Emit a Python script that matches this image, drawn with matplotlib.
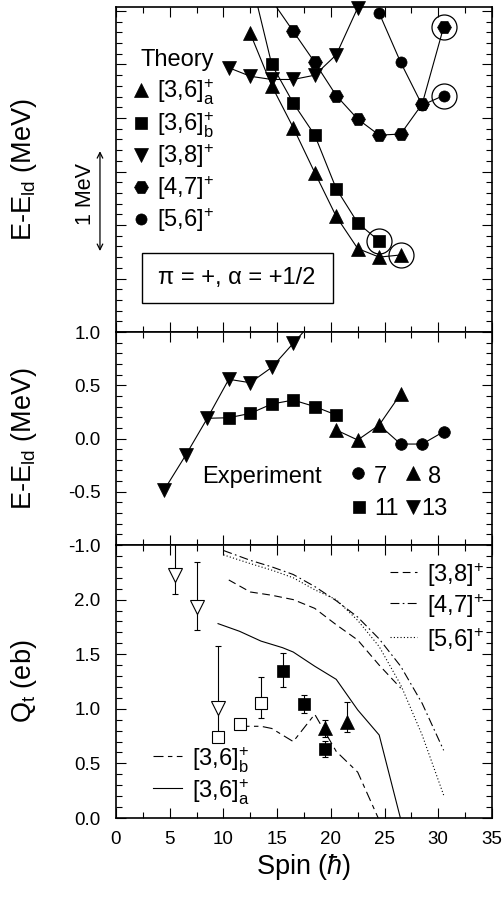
import numpy as np
import matplotlib
matplotlib.use("Agg")
import matplotlib.pyplot as plt
import matplotlib.transforms as mtransforms
from matplotlib.ticker import MultipleLocator, FixedLocator, NullFormatter
from matplotlib.patches import Rectangle

plt.rcParams['font.family'] = ['Liberation Sans', 'DejaVu Sans']
plt.rcParams['mathtext.fontset'] = 'custom'
plt.rcParams['mathtext.rm'] = 'Liberation Sans'
plt.rcParams['mathtext.it'] = 'Liberation Sans:italic'
plt.rcParams['mathtext.bf'] = 'Liberation Sans:bold'

# --- theory, top panel (E - E_ld, MeV, arbitrary offset) ---
th_36a_spin = [12.5, 14.5, 16.5, 18.5, 20.5, 22.5, 24.5, 26.5]
th_36a_e = [2.79, 2.30, 1.91, 1.49, 1.08, 0.78, 0.70, 0.72]
th_36b_spin = [12.5, 14.5, 16.5, 18.5, 20.5, 22.5, 24.5]
th_36b_e = [3.33, 2.50, 2.14, 1.84, 1.34, 1.02, 0.85]
th_38_spin = [10.5, 12.5, 14.5, 16.5, 18.5, 20.5, 22.5]
th_38_e = [2.47, 2.39, 2.36, 2.36, 2.40, 2.59, 3.03]
th_47_spin = [14.5, 16.5, 18.5, 20.5, 22.5, 24.5, 26.5, 28.5, 30.5]
th_47_e = [3.10, 2.81, 2.52, 2.21, 1.99, 1.84, 1.85, 2.13, 2.85]
th_56_spin = [24.5, 26.5, 28.5, 30.5]
th_56_e = [2.98, 2.52, 2.12, 2.21]
circled_spin = [26.5, 24.5, 30.5, 30.5]
circled_e = [0.72, 0.85, 2.85, 2.21]
scale_bar = [0.757, 1.69]   # "1 MeV" arrow ends

# --- experiment, middle panel ---
exp13_spin = [4.5, 6.5, 8.5, 10.5, 12.5, 14.5, 16.5, 18.5]
exp13_e = [-0.48, -0.155, 0.19, 0.556, 0.524, 0.668, 0.894, 1.12]
exp11_spin = [8.5, 10.5, 12.5, 14.5, 16.5, 18.5, 20.5]
exp11_e = [0.19, 0.195, 0.236, 0.324, 0.361, 0.30, 0.221]
exp8_spin = [20.5, 22.5, 24.5, 26.5]
exp8_e = [0.08, -0.014, 0.127, 0.418]
exp7_spin = [24.5, 26.5, 28.5, 30.5]
exp7_e = [0.127, -0.052, -0.052, 0.064]

# --- transition quadrupole moments, bottom panel ---
qt13_spin = [5.5, 7.5, 9.5]
qt13 = [2.225, 1.935, 1.005]
qt13_lo = [0.175, 0.215, 0.25]
qt13_hi = [0.40, 0.405, 0.57]
qt11_open_spin = [9.5, 11.5, 13.5]
qt11_open = [0.739, 0.861, 1.056]
qt11_open_lo = [0.0, 0.0, 0.138]
qt11_open_hi = [0.0, 0.0, 0.238]
qt11_spin = [15.5, 17.5, 19.5]
qt11 = [1.346, 1.041, 0.632]
qt11_lo = [0.143, 0.082, 0.076]
qt11_hi = [0.168, 0.082, 0.07]
qt8_spin = [19.5, 21.5]
qt8 = [0.827, 0.882]
qt8_lo = [0.082, 0.092]
qt8_hi = [0.075, 0.178]

calc_36a_spin = [9.5, 11.5, 13.5, 15.5, 16.5, 18.5, 20.5, 22.5, 24.5, 26.5]
calc_36a = [1.78, 1.71, 1.62, 1.56, 1.52, 1.39, 1.27, 0.99, 0.76, -0.01]
calc_36b_spin = [11.5, 13.5, 14.5, 16.5, 18.5, 20.5, 22.5, 24.5]
calc_36b = [0.84, 0.84, 0.82, 0.70, 0.95, 0.61, 0.42, -0.02]
calc_38_spin = [10.5, 12.5, 14.5, 16.5, 18.5, 20.5, 22.5, 24.5, 26.5]
calc_38 = [2.18, 2.07, 2.04, 2.00, 1.92, 1.77, 1.63, 1.40, 1.19]
calc_47_spin = [10.0, 12.5, 14.5, 16.5, 18.5, 20.5, 22.5, 24.5, 26.5, 28.5, 30.5]
calc_47 = [2.45, 2.36, 2.30, 2.23, 2.12, 1.99, 1.84, 1.64, 1.39, 1.05, 0.62]
calc_56_spin = [10.0, 12.5, 14.5, 16.5, 18.5, 20.5, 22.5, 24.5, 26.5, 28.5, 30.5]
calc_56 = [2.41, 2.33, 2.27, 2.20, 2.09, 2.00, 1.81, 1.57, 1.22, 0.76, 0.21]

FS_TEXT = 17
FS_TICK = 13.5
FS_LABEL = 19.5
TOP_MAX = 3.037

fig = plt.figure(figsize=(5.03, 9.01), dpi=100)
ax_top = fig.add_axes([0.2306, 0.6315, 0.7475, 0.3607])
ax_mid = fig.add_axes([0.2306, 0.3951, 0.7475, 0.2364])
ax_bot = fig.add_axes([0.2306, 0.0921, 0.7475, 0.3030])


def style_axis(ax):
    ax.set_xlim(0, 35)
    ax.xaxis.set_major_locator(MultipleLocator(5))
    ax.xaxis.set_minor_locator(MultipleLocator(2.5))
    ax.yaxis.set_minor_locator(MultipleLocator(0.1))
    ax.tick_params(which='both', direction='in', top=True, right=True,
                   width=0.8, labelsize=FS_TICK)
    ax.tick_params(which='major', length=7)
    ax.tick_params(which='minor', length=4)
    ax.tick_params(axis='y', pad=11)
    ax.tick_params(axis='x', pad=9)
    for s in ax.spines.values():
        s.set_linewidth(1.2)


for ax in (ax_top, ax_mid, ax_bot):
    style_axis(ax)

# ---------------- top panel ----------------
ax = ax_top
ax.set_ylim(0, TOP_MAX)
ax.yaxis.set_major_locator(MultipleLocator(0.5))
ax.yaxis.set_major_formatter(NullFormatter())
ax.xaxis.set_major_formatter(NullFormatter())

MS_TRI, MS_SQ, MS_HEX, MS_CIR = 9.6, 8.4, 10.0, 8.0
bands = [
    (th_36a_spin, th_36a_e, '^', MS_TRI),
    (th_36b_spin, th_36b_e, 's', MS_SQ),
    (th_56_spin, th_56_e, 'o', MS_CIR),
    (th_47_spin, th_47_e, 'H', MS_HEX),
    (th_38_spin, th_38_e, 'v', MS_TRI),
]
for spin, e, mk, ms in bands:
    spin = np.array(spin)
    e = np.array(e)
    ax.plot(spin, e, '-', color='k', lw=0.8)
    inside = e <= TOP_MAX + 0.02
    ax.plot(spin[inside], e[inside], ls='none', marker=mk, ms=ms, color='k',
            mew=0.5, clip_on=False, zorder=3)
ax.plot(circled_spin, circled_e, ls='none', marker='o', ms=18, mfc='none',
        mec='k', mew=0.9, zorder=4)

# legend "Theory"
ax.text(0.064, 0.837, 'Theory', transform=ax.transAxes, fontsize=FS_TEXT,
        ha='left', va='center')
theory_labels = [r'[3,6]$^{+}_{\mathrm{a}}$', r'[3,6]$^{+}_{\mathrm{b}}$',
                 r'[3,8]$^{+}$', r'[4,7]$^{+}$', r'[5,6]$^{+}$']
theory_marks = [('^', MS_TRI), ('s', MS_SQ), ('v', MS_TRI), ('H', MS_HEX),
                ('o', MS_CIR)]
row_px = [90, 123, 155, 187, 219]
for lab, (mk, ms), py in zip(theory_labels, theory_marks, row_px):
    ya = (332 - py) / 325
    yb = (332 - py - 8) / 325
    ax.plot([0.0665], [ya], marker=mk, ms=ms, color='k', mew=0.5,
            transform=ax.transAxes, clip_on=False)
    ax.text(0.108, yb, lab, transform=ax.transAxes, fontsize=FS_TEXT,
            ha='left', va='baseline')

# parity / signature box
ax.add_patch(Rectangle((0.068, 0.090), 0.508, 0.153, transform=ax.transAxes,
                       fill=False, ec='k', lw=1.0))
ax.text(0.322, 0.166, 'π = +, α = +1/2', transform=ax.transAxes,
        fontsize=FS_TEXT, ha='center', va='center')

# 1 MeV scale arrow, left of the axis
trans = mtransforms.blended_transform_factory(ax.transAxes, ax.transData)
ax.annotate('', xy=(-0.0426, scale_bar[1]), xytext=(-0.0426, scale_bar[0]),
            xycoords=trans, textcoords=trans, annotation_clip=False,
            arrowprops=dict(arrowstyle='<->', lw=0.9, color='k',
                            shrinkA=0, shrinkB=0, mutation_scale=10))
ax.text(-0.080, np.mean(scale_bar) + 0.07, '1 MeV', transform=trans,
        rotation=90, fontsize=15.5, ha='center', va='center')
ax.set_ylabel(r'E-E$_{\mathrm{ld}}$ (MeV)', fontsize=FS_LABEL)

# ---------------- middle panel ----------------
ax = ax_mid
ax.set_ylim(-1.0, 1.0)
ax.yaxis.set_major_locator(MultipleLocator(0.5))
ax.yaxis.set_major_formatter(matplotlib.ticker.FormatStrFormatter('%.1f'))
ax.xaxis.set_major_formatter(NullFormatter())

ax.plot(exp13_spin, exp13_e, '-', color='k', lw=0.8)
ax.plot(exp13_spin, exp13_e, ls='none', marker='v', ms=9.4, color='k', mew=0.5)
ax.plot(exp11_spin, exp11_e, '-', color='k', lw=0.8)
ax.plot(exp11_spin, exp11_e, ls='none', marker='s', ms=8.0, color='k', mew=0.5,
        markevery=slice(1, None))
ax.plot(exp8_spin, exp8_e, '-', color='k', lw=0.8)
ax.plot(exp8_spin, exp8_e, ls='none', marker='^', ms=9.4, color='k', mew=0.5)
ax.plot(exp7_spin, exp7_e, '-', color='k', lw=0.8)
ax.plot(exp7_spin, exp7_e, ls='none', marker='o', ms=8.4, color='k', mew=0.5,
        markevery=slice(1, None))


def ax_xy(px, py, top, height):
    return (px - 116) / 376, (top - py) / height


x0, y0 = ax_xy(201.7, 482.7, 545, 213)
ax.text(x0, y0, 'Experiment', transform=ax.transAxes, fontsize=FS_TEXT,
        ha='left', va='baseline')
exp_keys = [('o', 8.4, 358.3, 473.3, '7', 373.3, 482.7),
            ('^', 9.4, 412.7, 473.3, '8', 427.7, 482.7),
            ('s', 8.0, 359.3, 506.7, '11', 374.0, 515.0),
            ('v', 9.4, 413.3, 506.7, '13', 421.7, 515.0)]
for mk, ms, mx, my, lab, tx, ty in exp_keys:
    xa, ya = ax_xy(mx, my, 545, 213)
    ax.plot([xa], [ya], marker=mk, ms=ms, color='k', mew=0.5,
            transform=ax.transAxes)
    xa, ya = ax_xy(tx, ty, 545, 213)
    ax.text(xa, ya, lab, transform=ax.transAxes, fontsize=FS_TEXT,
            ha='left', va='baseline')
ax.set_ylabel(r'E-E$_{\mathrm{ld}}$ (MeV)', fontsize=FS_LABEL)

# ---------------- bottom panel ----------------
ax = ax_bot
ax.set_ylim(0, 2.5)
ax.yaxis.set_major_locator(FixedLocator([0.0, 0.5, 1.0, 1.5, 2.0]))
ax.yaxis.set_major_formatter(matplotlib.ticker.FormatStrFormatter('%.1f'))

ls_38 = (0, (7, 4))
ls_47 = (0, (8, 3, 1.5, 3))
ls_56 = (0, (1, 2))
ls_36b = (0, (9, 4, 4, 4))
ax.plot(calc_38_spin, calc_38, color='k', lw=0.8, ls=ls_38)
ax.plot(calc_47_spin, calc_47, color='k', lw=0.8, ls=ls_47)
ax.plot(calc_56_spin, calc_56, color='k', lw=0.8, ls=ls_56)
ax.plot(calc_36a_spin, calc_36a, color='k', lw=0.8, ls='-')
ax.plot(calc_36b_spin, calc_36b, color='k', lw=0.8, ls=ls_36b)

err_kw = dict(fmt='none', ecolor='k', elinewidth=0.8, capsize=2.5, capthick=0.8)
ax.errorbar(qt13_spin, qt13, yerr=[qt13_lo, qt13_hi], **err_kw)
ax.errorbar(qt11_open_spin, qt11_open, yerr=[qt11_open_lo, qt11_open_hi], **err_kw)
ax.errorbar(qt11_spin, qt11, yerr=[qt11_lo, qt11_hi], **err_kw)
ax.errorbar(qt8_spin, qt8, yerr=[qt8_lo, qt8_hi], **err_kw)
ax.plot(qt13_spin, qt13, ls='none', marker='v', ms=9.6, mfc='white', mec='k',
        mew=0.8, zorder=4)
ax.plot(qt11_open_spin, qt11_open, ls='none', marker='s', ms=8.4, mfc='white',
        mec='k', mew=0.8, zorder=4)
ax.plot(qt11_spin, qt11, ls='none', marker='s', ms=8.4, color='k', mew=0.5,
        zorder=4)
ax.plot(qt8_spin, qt8, ls='none', marker='^', ms=9.6, color='k', mew=0.5,
        zorder=4)

# line legends
line_keys = [(ls_38, r'[3,8]$^{+}$', 390, 417, 427, 572),
             (ls_47, r'[4,7]$^{+}$', 390, 417, 427, 603),
             (ls_56, r'[5,6]$^{+}$', 390, 417, 427, 637),
             (ls_36b, r'[3,6]$^{+}_{\mathrm{b}}$', 153, 182, 192, 756),
             ('-', r'[3,6]$^{+}_{\mathrm{a}}$', 153, 182, 192, 788)]
for ls, lab, xa_px, xb_px, tx_px, py in line_keys:
    xa, ya = ax_xy(xa_px, py, 818, 273)
    xb, _ = ax_xy(xb_px, py, 818, 273)
    ax.plot([xa, xb], [ya, ya], color='k', lw=0.8, ls=ls, transform=ax.transAxes)
    tx, ty = ax_xy(tx_px, py + 10, 818, 273)
    ax.text(tx, ty, lab, transform=ax.transAxes, fontsize=FS_TEXT,
            ha='left', va='baseline')

ax.set_ylabel(r'Q$_{\mathrm{t}}$ (eb)', fontsize=FS_LABEL)
ax.set_xlabel(r'Spin ($\hbar$)', fontsize=FS_LABEL, labelpad=3)

for ax in (ax_top, ax_mid, ax_bot):
    ax.yaxis.set_label_coords(-0.205, 0.5)

fig.savefig('out.png', dpi=100)
